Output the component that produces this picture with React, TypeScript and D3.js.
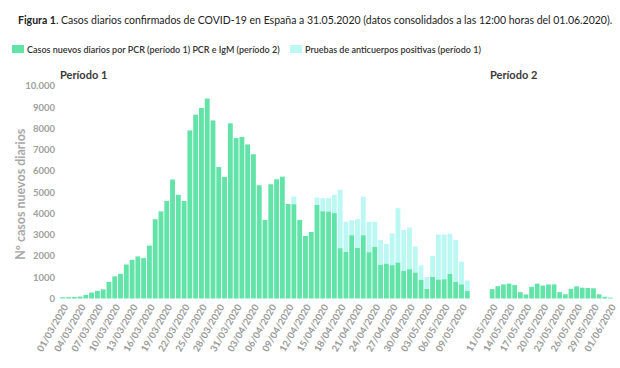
import { useEffect, useRef } from 'react';
import * as d3 from 'd3';

const GREEN = '#62e3a8';
const CYAN = '#bcf8f3';
const FONT = 'Lato, sans-serif';

// Período 1: 01/03/2020 - 10/05/2020, Período 2: 11/05/2020 - 01/06/2020
const periodo1Start = new Date(2020, 2, 1);
const periodo1End = new Date(2020, 4, 10);
const periodo2Start = new Date(2020, 4, 11);
const periodo2End = new Date(2020, 5, 1);

// Casos nuevos diarios por PCR (período 1)
const pcrPeriodo1 = [
  60, 60, 70, 90, 170, 280, 360, 430, 780, 1040,
  1160, 1600, 1820, 1980, 1900, 2490, 3730, 4100, 4590, 5600,
  4880, 4590, 7910, 8650, 8970, 9410, 8380, 6190, 5720, 8245,
  7550, 7600, 7250, 6790, 5330, 3700, 5375, 5610, 5735, 4450,
  4440, 3700, 2945, 3130, 4400, 4110, 4100, 4020, 2370, 2200,
  2980, 2390, 2980, 2180, 2440, 1600, 1650, 1570, 1700, 1300,
  1380, 1230, 870, 460, 1020, 900, 910, 1170, 790, 670, 350,
];

// Pruebas de anticuerpos positivas (período 1), apiladas sobre PCR
const anticuerposPeriodo1 = [
  0, 0, 0, 0, 0, 0, 0, 0, 0, 0,
  0, 0, 0, 0, 0, 0, 0, 0, 0, 0,
  0, 0, 0, 0, 0, 0, 0, 0, 0, 0,
  0, 0, 0, 0, 0, 0, 0, 0, 0, 0,
  360, 0, 0, 0, 350, 610, 620, 860, 2750, 1410,
  700, 1350, 1810, 1430, 1170, 1150, 910, 1490, 2550, 1930,
  1960, 1220, 690, 540, 980, 2110, 2100, 1880, 1960, 1060, 495,
];

// PCR e IgM (período 2)
const pcrPeriodo2 = [
  440, 580, 660, 700, 630, 300, 190, 550, 700, 610,
  660, 665, 300, 200, 455, 575, 510, 495, 480, 200, 80, 40,
];

const yTicks = [0, 1000, 2000, 3000, 4000, 5000, 6000, 7000, 8000, 9000, 10000];

export default function App() {
  const svgRef = useRef<SVGSVGElement | null>(null);

  useEffect(() => {
    if (!svgRef.current) return;
    const svg = d3.select(svgRef.current);
    svg.selectAll('*').remove();

    const width = 620;
    const fmt = d3.timeFormat('%d/%m/%Y');
    const days1 = d3.timeDay.range(periodo1Start, d3.timeDay.offset(periodo1End, 1)).map(fmt);
    const days2 = d3.timeDay.range(periodo2Start, d3.timeDay.offset(periodo2End, 1)).map(fmt);

    const y = d3.scaleLinear().domain([0, 10000]).range([298.5, 86]);

    const x1 = d3.scaleBand<string>().domain(days1).range([60, 470]).paddingInner(0.16).paddingOuter(0.05);
    const x2 = d3.scaleBand<string>().domain(days2).range([489.5, 613]).paddingInner(0.16).paddingOuter(0.05);

    svg.append('rect').attr('width', width).attr('height', 368).attr('fill', '#fff');

    // Title
    const title = svg.append('text')
      .attr('x', 18)
      .attr('y', 24)
      .attr('font-family', FONT)
      .attr('font-size', 10.5)
      .attr('fill', '#222');
    title.append('tspan').attr('font-weight', 700).text('Figura 1');
    title.append('tspan').text('. Casos diarios confirmados de COVID-19 en España a 31.05.2020 (datos consolidados a las 12:00 horas del 01.06.2020).');

    // Legend
    const legendItems = [
      { label: 'Casos nuevos diarios por PCR (período 1) PCR e IgM (período 2)', color: GREEN, x: 12 },
      { label: 'Pruebas de anticuerpos positivas (período 1)', color: CYAN, x: 290 },
    ];
    legendItems.forEach((d) => {
      const g = svg.append('g').attr('transform', `translate(${d.x},45)`);
      g.append('rect').attr('width', 12).attr('height', 8).attr('fill', d.color);
      g.append('text')
        .attr('x', 15)
        .attr('y', 7.5)
        .attr('font-family', FONT)
        .attr('font-size', 9)
        .attr('font-weight', 600)
        .attr('fill', '#333')
        .text(d.label);
    });

    // Period titles
    [{ t: 'Período 1', x: 60 }, { t: 'Período 2', x: 490 }].forEach((d) => {
      svg.append('text')
        .attr('x', d.x)
        .attr('y', 79)
        .attr('font-family', FONT)
        .attr('font-size', 11)
        .attr('font-weight', 700)
        .attr('fill', '#3a3a3a')
        .text(d.t);
    });

    // Y axis labels
    svg.append('g')
      .selectAll('text')
      .data(yTicks)
      .join('text')
      .attr('x', 55)
      .attr('y', (d) => y(d))
      .attr('dy', '0.35em')
      .attr('text-anchor', 'end')
      .attr('font-family', FONT)
      .attr('font-size', 9.5)
      .attr('font-weight', 700)
      .attr('fill', '#a0a0a0')
      .text((d) => (d === 10000 ? '10.000' : String(d)));

    svg.append('text')
      .attr('transform', `translate(25,${(y(0) + y(10000)) / 2 + 2}) rotate(-90)`)
      .attr('text-anchor', 'middle')
      .attr('font-family', FONT)
      .attr('font-size', 12.5)
      .attr('font-weight', 700)
      .attr('fill', '#a8a8a8')
      .text('Nº casos nuevos diarios');

    // Bars period 1
    const g1 = svg.append('g');
    g1.selectAll('rect.pcr')
      .data(days1)
      .join('rect')
      .attr('class', 'pcr')
      .attr('x', (d) => x1(d)!)
      .attr('width', x1.bandwidth())
      .attr('y', (d, i) => y(pcrPeriodo1[i]))
      .attr('height', (d, i) => y(0) - y(pcrPeriodo1[i]))
      .attr('fill', GREEN);

    g1.selectAll('rect.anti')
      .data(days1)
      .join('rect')
      .attr('class', 'anti')
      .attr('x', (d) => x1(d)!)
      .attr('width', x1.bandwidth())
      .attr('y', (d, i) => y(pcrPeriodo1[i] + anticuerposPeriodo1[i]))
      .attr('height', (d, i) => y(pcrPeriodo1[i]) - y(pcrPeriodo1[i] + anticuerposPeriodo1[i]))
      .attr('fill', CYAN);

    // Bars period 2
    svg.append('g')
      .selectAll('rect')
      .data(days2)
      .join('rect')
      .attr('x', (d) => x2(d)!)
      .attr('width', x2.bandwidth())
      .attr('y', (d, i) => y(pcrPeriodo2[i]))
      .attr('height', (d, i) => y(0) - y(pcrPeriodo2[i]))
      .attr('fill', GREEN);

    // X tick labels, every 3 days
    const ticks = [
      ...days1.filter((d, i) => i % 3 === 0).map((d) => ({ d, x: x1(d)! + x1.bandwidth() / 2 })),
      ...days2.filter((d, i) => i % 3 === 0).map((d) => ({ d, x: x2(d)! + x2.bandwidth() / 2 })),
    ];
    svg.append('g')
      .selectAll('text')
      .data(ticks)
      .join('text')
      .attr('transform', (t) => `translate(${t.x + 3},305) rotate(-60)`)
      .attr('text-anchor', 'end')
      .attr('dy', '0.35em')
      .attr('font-family', FONT)
      .attr('font-size', 9.5)
      .attr('font-weight', 700)
      .attr('fill', '#9a9a9a')
      .text((t) => t.d);
  }, []);

  return (
    <svg
      ref={svgRef}
      width={620}
      height={368}
      style={{ position: 'absolute', left: 0, top: 0, display: 'block' }}
    />
  );
}
